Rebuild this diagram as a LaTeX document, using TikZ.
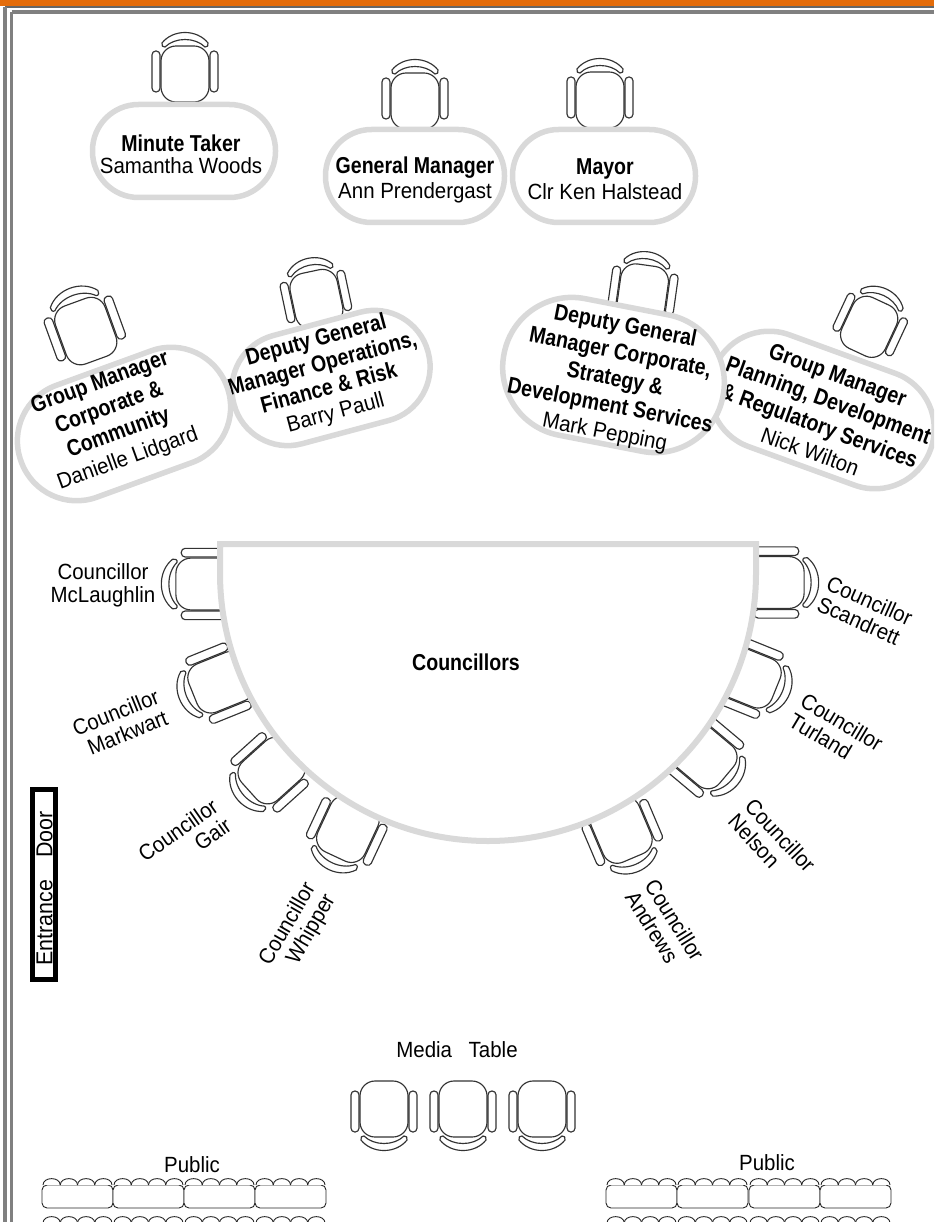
\documentclass[tikz,border=0pt]{standalone}
\usepackage{fontspec}
\setmainfont{Liberation Sans}[FakeStretch=0.93]
\newfontfamily\boldf{Liberation Sans}[FakeStretch=0.85]
\newcommand{\bfx}{\boldf\bfseries\fontsize{23}{\baselineskip}\selectfont}
\newcommand{\rgx}{\normalfont\fontsize{22}{\baselineskip}\selectfont}
\definecolor{frameorange}{RGB}{228,108,10}
\definecolor{framegray}{RGB}{128,128,128}
\definecolor{tablegray}{RGB}{217,217,217}
\begin{document}
\begin{tikzpicture}[x=1pt, y=-1pt,
  chairline/.style={draw=black!80, line width=1.15pt, fill=white},
  benchline/.style={draw=black!85, line width=0.9pt, fill=white},
  chair/.pic={
    \path[chairline, rounded corners=15pt] (-24,-26) rectangle (24,30);
    \path[chairline, rounded corners=3.8pt] (-33,-21) rectangle (-25,20);
    \path[chairline, rounded corners=3.8pt] (25,-21) rectangle (33,20);
    \path[chairline] (-23,-29) .. controls (-12,-43) and (12,-43) .. (23,-29)
      .. controls (24,-27) and (22,-24) .. (20,-25)
      .. controls (10,-35) and (-10,-35) .. (-20,-25)
      .. controls (-22,-24) and (-24,-27) .. (-23,-29) -- cycle;
  },
  bench/.pic={
    \path[benchline, rounded corners=5pt] (0,7) rectangle (71,30);
    \foreach \i in {0,1,2,3} {
      \path[benchline] ({1+17.25*\i},7) .. controls ({1+17.25*\i},-1.5) and ({18.25+17.25*\i},-1.5) .. ({18.25+17.25*\i},7);
    }
  },
  tbl/.style={draw=tablegray, line width=5.5pt, fill=white, inner sep=0pt},
  tbltext/.style={align=center, inner sep=0pt},
  lbl/.style={inner sep=0pt, font=\fontsize{22}{23}\selectfont},
]
\useasboundingbox (0,0) rectangle (934,1222);
\clip (0,0) rectangle (934,1222);

% ---------- chairs of the top tables ----------
\pic (cmt) at (185,72) {chair};
\pic (cgm) at (415,99) {chair};
\pic (cmay) at (600,98) {chair};
\pic[rotate=20, scale=1.1] (cgmcc) at (85,329) {chair};
\pic[rotate=12] (cdgmo) at (316,297) {chair};
\pic[rotate=-8] (cdgmc) at (643,291) {chair};
\pic[rotate=-25] (cgmp) at (870,325) {chair};

% ---------- councillor chairs ----------
\pic[rotate=90, scale=1.08] (cmcl) at (204,584) {chair};
\pic[rotate=112, scale=1.08] (cmark) at (219,683) {chair};
\pic[rotate=132, scale=1.08] (cgair) at (270,772) {chair};
\pic[rotate=155, scale=1.08] (cwhip) at (347,831) {chair};
\pic[rotate=-90, scale=1.08] (cscan) at (776,582.5) {chair};
\pic[rotate=-112, scale=1.08] (cturl) at (750,678) {chair};
\pic[rotate=-130, scale=1.08] (cnel) at (705,757) {chair};
\pic[rotate=-157, scale=1.08] (cand) at (622,832) {chair};

% ---------- media chairs ----------
\pic[rotate=180] (cmed1) at (384,1111) {chair};
\pic[rotate=180] (cmed2) at (463,1111) {chair};
\pic[rotate=180] (cmed3) at (542,1111) {chair};

% ---------- councillors' table ----------
\path[draw=tablegray, line width=6pt, fill=white]
  (220,544) -- (756,544) -- (756,573)
  .. controls (756,721) and (636,841) .. (488,841)
  .. controls (340,841) and (220,721) .. (220,573) -- cycle;
\node[inner sep=0pt, font=\fontsize{23}{23}\selectfont\bfx] (councillors) at (466,662) {Councillors};

% ---------- top tables ----------
\node[tbl, minimum width=183pt, minimum height=93pt, rounded corners=46pt] (tmt) at (184,151) {};
\node[tbltext, font=\fontsize{22}{22}\selectfont] (xmt) at (181,154) {\bfx Minute Taker\\\rgx Samantha Woods};
\node[tbl, minimum width=179pt, minimum height=93pt, rounded corners=46pt] (tgm) at (415,176) {};
\node[tbltext, font=\fontsize{22}{25}\selectfont] (xgm) at (415,179.5) {\bfx General Manager\\\rgx Ann Prendergast};
\node[tbl, minimum width=183pt, minimum height=93pt, rounded corners=46pt] (tmay) at (604,176) {};
\node[tbltext, font=\fontsize{22}{25}\selectfont] (xmay) at (605,179.5) {\bfx Mayor\\\rgx Clr Ken Halstead};

% ---------- angled tables ----------
\node[tbl, rotate=-20, minimum width=231pt, minimum height=119pt, rounded corners=59pt] (tgmp) at (822,410) {};
\node[tbltext, rotate=-20, font=\fontsize{22}{27}\selectfont] (xgmp) at (824,413)
  {\bfx Group Manager\\\bfx Planning, Development\\\bfx \& Regulatory Services\\\rgx Nick Wilton};
\node[tbl, rotate=-11, minimum width=223pt, minimum height=139pt, rounded corners=69pt] (tdgmc) at (613.5,375) {};
\node[tbltext, rotate=-11, font=\fontsize{22}{27}\selectfont] (xdgmc) at (615,380)
  {\bfx Deputy General\\\bfx Manager Corporate,\\\bfx Strategy \&\\\bfx Development Services\\\rgx Mark Pepping};
\node[tbl, rotate=15, minimum width=201pt, minimum height=112pt, rounded corners=55.5pt] (tdgmo) at (331,378) {};
\node[tbltext, rotate=15, font=\fontsize{22}{25}\selectfont] (xdgmo) at (326,377)
  {\bfx Deputy General\\\bfx Manager Operations,\\\bfx Finance \& Risk\\\rgx Barry Paull};
\node[tbl, rotate=20, minimum width=219pt, minimum height=119pt, rounded corners=59pt] (tgmcc) at (124,424) {};
\node[tbltext, rotate=20, font=\fontsize{22}{27}\selectfont] (xgmcc) at (114,421)
  {\bfx Group Manager\\\bfx Corporate \&\\\bfx Community\\\rgx Danielle Lidgard};

% ---------- councillor labels ----------
\node[lbl, align=center] (lmcl) at (103,585) {Councillor\\McLaughlin};
\node[lbl, align=right, rotate=22] (lmark) at (120,723) {Councillor\\Markwart};
\node[lbl, align=right, rotate=35] (lgair) at (184.5,839.5) {Councillor\\Gair};
\node[lbl, align=right, rotate=60] (lwhip) at (298,930) {Councillor\\Whipper};
\node[lbl, align=left, rotate=-24] (lscan) at (865,611) {Councillor\\Scandrett};
\node[lbl, align=left, rotate=-31] (lturl) at (836,732) {Councillor\\Turland};
\node[lbl, align=left, rotate=-47] (lnel) at (772,843) {Councillor\\Nelson};
\node[lbl, align=left, rotate=-58] (land) at (665,926) {Councillor\\Andrews};

% ---------- entrance door ----------
\node[draw=black, line width=5.5pt, minimum width=23pt, minimum height=190pt, inner sep=0pt] (doorbox) at (44,884.5) {};
\node[inner sep=0pt, rotate=90, font=\fontsize{23}{23}\selectfont] (door) at (44.5,888.5) {Entrance\hspace{16pt} Door};

% ---------- media & public ----------
\node[lbl] (media) at (457,1050) {Media\hspace{11pt} Table};
\node[lbl] (publ) at (192,1165) {Public};
\node[lbl] (pubr) at (767,1163) {Public};
\foreach \bx in {42,113,184,255,606,677,749,820} {
  \pic at (\bx,1178) {bench};
  \pic at (\bx,1216) {bench};
}

% ---------- frame ----------
\fill[frameorange] (0,0) rectangle (934,6.3);
\draw[framegray!80!black, line width=1.6pt] (5,7) -- (934,7);
\draw[framegray, line width=3.3pt] (5,7) -- (5,1222);
\draw[framegray, line width=3.5pt] (11.7,12) -- (934,12);
\draw[framegray, line width=3.3pt] (11.7,12) -- (11.7,1222);
\end{tikzpicture}
\end{document}
